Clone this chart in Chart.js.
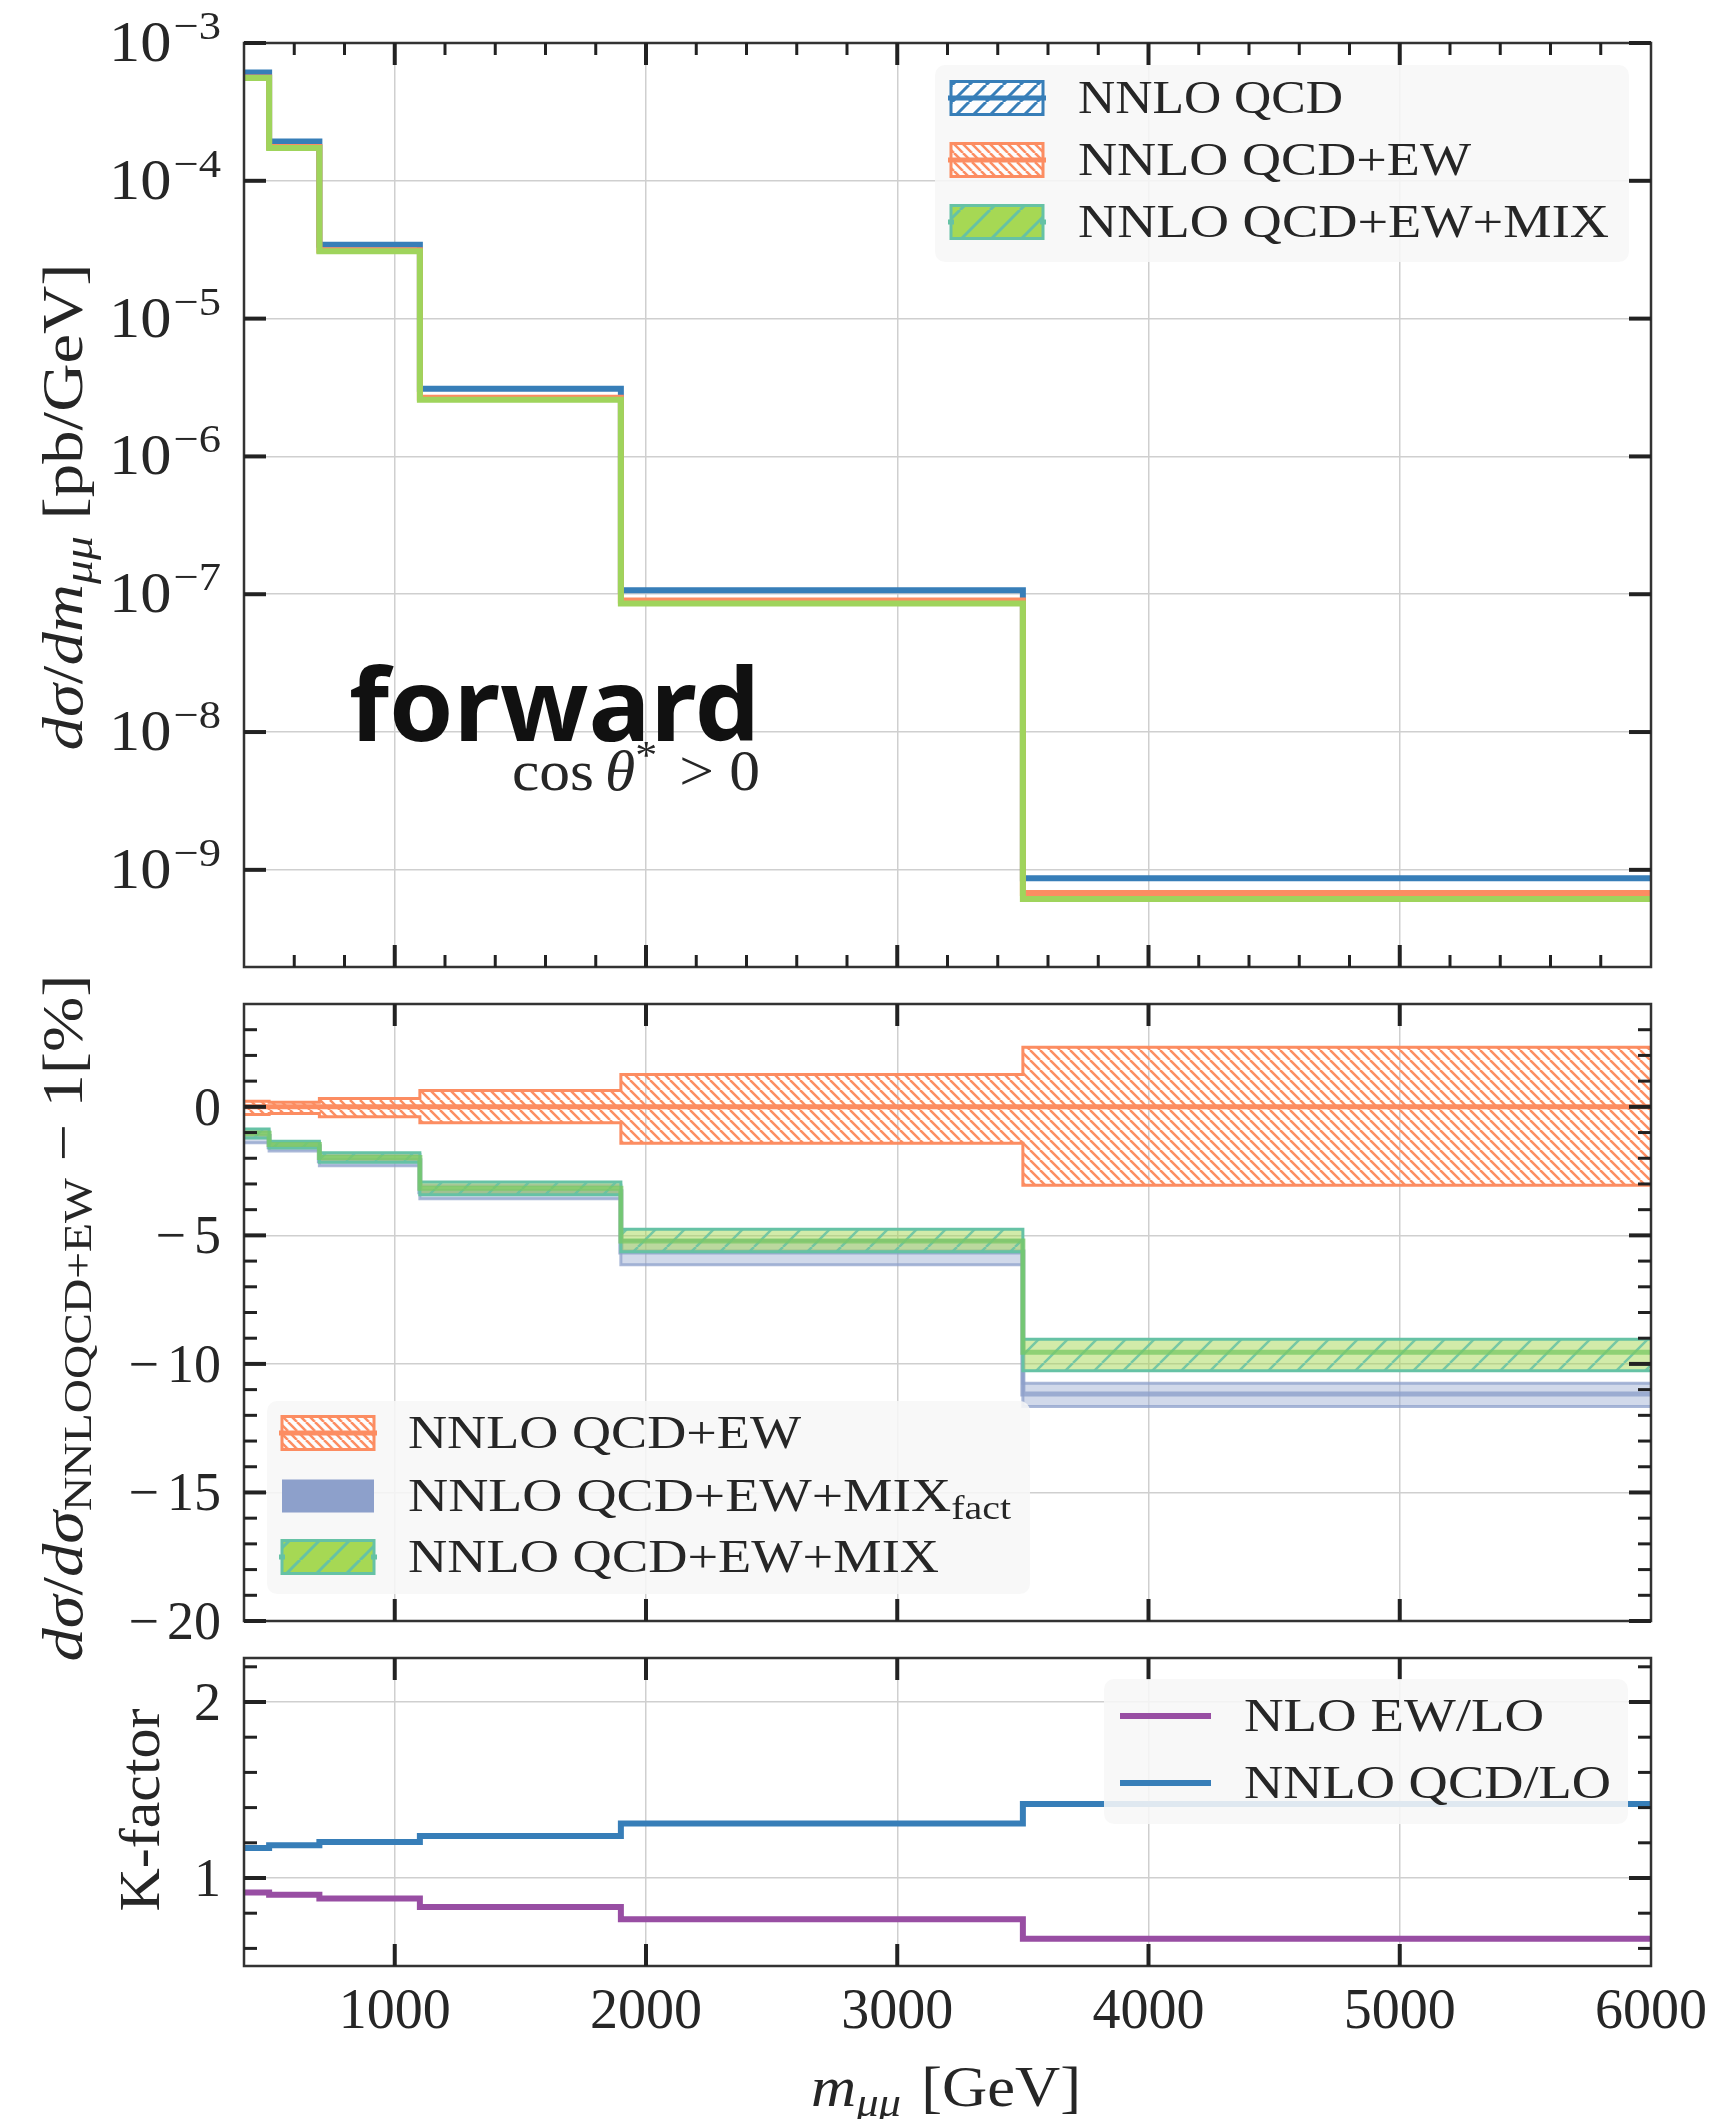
<!DOCTYPE html>
<html lang="en">
<head>
<meta charset="UTF-8">
<title>Forward dσ/dm_μμ</title>
<script src="https://cdn.jsdelivr.net/npm/chart.js"></script>
<style>
  html, body { margin: 0; padding: 0; background: #fff; }
  #wrap { position: relative; width: 1716px; height: 2119px; }
  #wrap canvas { position: absolute; left: 0; top: 0; }
</style>
</head>
<body>
<div id="wrap">
  <canvas id="cMain" width="1716" height="2119"></canvas>
  <canvas id="cRatio" width="1716" height="2119"></canvas>
  <canvas id="cK" width="1716" height="2119"></canvas>
</div>
<script>
// bins in m_mumu [GeV]
const binEdges = [400, 500, 700, 1100, 1900, 3500, 6000];

// top panel: dsigma/dm [pb/GeV]
const xsecNNLOQCD   = [6.1e-4, 1.93e-4, 3.43e-5, 3.10e-6, 1.07e-7, 8.7e-10];
const xsecNNLOQCDEW = [5.63e-4, 1.76e-4, 3.14e-5, 2.67e-6, 9.0e-8, 6.8e-10];
const xsecMIX       = [5.57e-4, 1.73e-4, 3.08e-5, 2.58e-6, 8.55e-8, 6.15e-10];

// middle panel: ratio to NNLO QCD+EW - 1 [%]
const ewCentral   = [0, 0, 0, 0, 0, 0];
const ewUp        = [0.22, 0.18, 0.32, 0.64, 1.26, 2.32];
const ewDown      = [-0.30, -0.26, -0.39, -0.62, -1.42, -3.05];
const factCentral = [-1.15, -1.55, -2.10, -3.30, -5.65, -11.17];
const factUp      = [-0.95, -1.40, -1.85, -3.05, -5.20, -10.75];
const factDown    = [-1.40, -1.72, -2.29, -3.58, -6.14, -11.66];
const mixCentral  = [-1.03, -1.47, -1.97, -3.17, -5.22, -9.55];
const mixUp       = [-0.86, -1.34, -1.79, -2.92, -4.76, -9.04];
const mixDown     = [-1.21, -1.60, -2.16, -3.42, -5.64, -10.27];

// bottom panel: K-factors
const kNLOEW   = [0.917, 0.905, 0.883, 0.835, 0.765, 0.655];
const kNNLOQCD = [1.170, 1.186, 1.205, 1.239, 1.309, 1.420];

// ticks
const xMajorTicks = [1000, 2000, 3000, 4000, 5000];
const xMinorTicks = [600, 800, 1200, 1400, 1600, 1800, 2200, 2400, 2600, 2800, 3200, 3400,
                     3600, 3800, 4200, 4400, 4600, 4800, 5200, 5400, 5600, 5800];
const xTickLabels = [1000, 2000, 3000, 4000, 5000, 6000];
const decadeExps = [-9, -8, -7, -6, -5, -4, -3];
const ratioTicks = [0, -5, -10, -15, -20];
const ratioMinor = [-19, -18, -17, -16, -14, -13, -12, -11, -9, -8, -7, -6, -4, -3, -2, -1, 1, 2, 3];
const kTicks = [1, 2];
const kMinor = [0.6, 0.8, 1.2, 1.4, 1.6, 1.8, 2.2];

const BLUE = '#377eb8', ORANGE = '#fc8d62', GREEN = '#a6d854', TEAL = '#66c2a5',
      FACT = '#8da0cb', PURPLE = '#984ea3', INK = '#262626';
const SERIF = '"Liberation Serif", "DejaVu Serif", serif';
const f = (size, style) => (style ? style + ' ' : '') + size + 'px ' + SERIF;

function hatch(color, s, dir, lw, bg) {
  const c = document.createElement('canvas');
  c.width = s; c.height = s;
  const g = c.getContext('2d');
  if (bg) { g.fillStyle = bg; g.fillRect(0, 0, s, s); }
  g.strokeStyle = color; g.lineWidth = lw;
  for (let k = -1; k <= 1; k++) {
    g.beginPath();
    if (dir === '/') { g.moveTo(k * s, s); g.lineTo(k * s + s, 0); }
    else { g.moveTo(k * s, 0); g.lineTo(k * s + s, s); }
    g.stroke();
  }
  return g.createPattern(c, 'repeat');
}

const orangeHatch = hatch(ORANGE, 10, '\\', 2.5);
const greenHatch = hatch('rgba(102,194,165,0.85)', 29, '/', 2.5, 'rgba(166,216,84,0.5)');
const legBlueHatch = hatch(BLUE, 17, '/', 3, 'rgba(255,255,255,0.7)');
const legOrangeHatch = hatch(ORANGE, 9, '\\', 2.5, 'rgba(255,255,255,0.7)');
const legGreenHatch = hatch(TEAL, 30, '/', 3, GREEN);

// text with mixed fonts, optionally stretched horizontally to a target width
function rich(ctx, parts, x, y, opt = {}) {
  ctx.save();
  let natural = 0;
  parts.forEach(p => {
    ctx.font = p.font;
    p.w = ctx.measureText(p.t).width;
    natural += p.w + (p.gap || 0);
  });
  const sx = opt.width ? opt.width / natural : 1;
  ctx.translate(x, y);
  if (opt.angle) ctx.rotate(opt.angle);
  ctx.scale(sx, 1);
  let cx = opt.align === 'center' ? -natural / 2 : opt.align === 'right' ? -natural : 0;
  ctx.fillStyle = opt.color || INK;
  ctx.textAlign = 'left';
  ctx.textBaseline = 'alphabetic';
  parts.forEach(p => {
    ctx.font = p.font;
    ctx.fillText(p.t, cx, p.dy || 0);
    cx += p.w + (p.gap || 0);
  });
  ctx.restore();
}

function stepData(vals) {
  const pts = vals.map((v, i) => ({ x: binEdges[i], y: v }));
  pts.push({ x: binEdges[binEdges.length - 1], y: vals[vals.length - 1] });
  return pts;
}

function lineDs(label, vals, color, width, order, extra) {
  return Object.assign({
    label, data: stepData(vals), borderColor: color, borderWidth: width,
    stepped: true, pointRadius: 0, fill: false, order,
    borderCapStyle: 'butt', borderJoinStyle: 'miter'
  }, extra || {});
}

function xScale() {
  return {
    type: 'linear', min: 400, max: 6000,
    ticks: { display: false }, border: { display: false },
    grid: { color: '#cfcfcf', lineWidth: 1.5, drawTicks: false },
    afterBuildTicks: s => { s.ticks = xMajorTicks.map(v => ({ value: v })); },
    afterFit: s => { s.height = 0; }
  };
}

function yScale(type, min, max, majors) {
  return {
    type, min, max,
    ticks: { display: false }, border: { display: false },
    grid: { color: '#cfcfcf', lineWidth: 1.5, drawTicks: false },
    afterBuildTicks: s => { s.ticks = majors.map(v => ({ value: v })); },
    afterFit: s => { s.width = 0; }
  };
}

function baseOptions(padding) {
  return {
    responsive: false, animation: false, devicePixelRatio: 1, events: [],
    layout: { padding, autoPadding: false },
    plugins: { legend: { display: false }, tooltip: { enabled: false } }
  };
}

// frame, inward ticks on all sides, tick labels, extras
function deco(name, cfg) {
  return {
    id: 'deco' + name,
    afterDatasetsDraw(chart) {
      const { ctx, chartArea: a, scales: { x, y } } = chart;
      ctx.save();
      ctx.strokeStyle = '#333';
      ctx.lineWidth = 2.5;
      ctx.strokeRect(a.left, a.top, a.right - a.left, a.bottom - a.top);
      ctx.strokeStyle = '#222';
      ctx.lineCap = 'butt';
      const mark = (x1, y1, x2, y2, w) => {
        ctx.lineWidth = w; ctx.beginPath(); ctx.moveTo(x1, y1); ctx.lineTo(x2, y2); ctx.stroke();
      };
      cfg.xMajor.forEach(v => {
        const px = x.getPixelForValue(v);
        mark(px, a.bottom, px, a.bottom - 22, 4);
        mark(px, a.top, px, a.top + 22, 4);
      });
      (cfg.xMinor || []).forEach(v => {
        const px = x.getPixelForValue(v);
        mark(px, a.bottom, px, a.bottom - 12, 3);
        mark(px, a.top, px, a.top + 12, 3);
      });
      cfg.yMajor.forEach(v => {
        const py = y.getPixelForValue(v);
        mark(a.left, py, a.left + 22, py, 4);
        mark(a.right, py, a.right - 22, py, 4);
        cfg.yLabel(ctx, v, py);
      });
      (cfg.yMinor || []).forEach(v => {
        const py = y.getPixelForValue(v);
        mark(a.left, py, a.left + 13, py, 3);
        mark(a.right, py, a.right - 13, py, 3);
      });
      ctx.restore();
      if (cfg.extra) cfg.extra(chart);
    }
  };
}

function legendBox(ctx, x, y, w, h) {
  ctx.save();
  ctx.fillStyle = 'rgba(247,247,247,0.88)';
  ctx.beginPath();
  ctx.roundRect(x, y, w, h, 10);
  ctx.fill();
  ctx.restore();
}

function patch(ctx, kind, x, cy) {
  const w = 92, h = 33, y0 = cy - h / 2;
  ctx.save();
  if (kind === 'fact') {
    ctx.fillStyle = FACT;
    ctx.fillRect(x, y0, w, h);
    ctx.restore();
    return;
  }
  const spec = {
    qcd: { fill: legBlueHatch, edge: BLUE },
    ew: { fill: legOrangeHatch, edge: ORANGE },
    mix: { fill: legGreenHatch, edge: TEAL }
  }[kind];
  ctx.fillStyle = spec.fill;
  ctx.fillRect(x, y0, w, h);
  ctx.strokeStyle = spec.edge;
  ctx.lineWidth = 3;
  ctx.strokeRect(x, y0, w, h);
  ctx.lineWidth = 5;
  ctx.beginPath();
  if (kind === 'mix') {
    ctx.moveTo(x - 3, cy); ctx.lineTo(x + 3, cy);
    ctx.moveTo(x + w - 3, cy); ctx.lineTo(x + w + 3, cy);
  } else {
    ctx.moveTo(x - 3, cy); ctx.lineTo(x + w + 3, cy);
  }
  ctx.stroke();
  ctx.restore();
}

function legendText(ctx, parts, x, cy, width) {
  rich(ctx, parts, x, cy + 15, { width });
}

const numLabel = (ctx, txt, py) => {
  const parts = txt.startsWith('\u2212')
    ? [{ t: '\u2212', font: f(54), gap: 8 }, { t: txt.slice(1), font: f(54) }]
    : [{ t: txt, font: f(54) }];
  rich(ctx, parts, 221, py + 18, { align: 'right' });
};

// ---------- top panel ----------
new Chart(document.getElementById('cMain'), {
  type: 'line',
  data: {
    datasets: [
      lineDs('NNLO QCD+EW+MIX', xsecMIX, '#9fd45c', 6, 1),
      lineDs('NNLO QCD+EW', xsecNNLOQCDEW, ORANGE, 6, 2),
      lineDs('NNLO QCD', xsecNNLOQCD, BLUE, 6, 3)
    ]
  },
  options: Object.assign(baseOptions({ left: 244, right: 65, top: 43, bottom: 2119 - 967 }), {
    scales: {
      x: xScale(),
      y: yScale('logarithmic', Math.pow(10, -9.705), 1e-3, decadeExps.map(e => Math.pow(10, e)))
    }
  }),
  plugins: [deco('Main', {
    xMajor: xMajorTicks, xMinor: xMinorTicks,
    yMajor: decadeExps.map(e => Math.pow(10, e)),
    yLabel: (ctx, v, py) => {
      const e = Math.round(Math.log10(v));
      rich(ctx, [{ t: '10', font: f(56), gap: 2 }, { t: '\u2212' + (-e), font: f(40), dy: -22 }],
        221, py + 18, { align: 'right', width: 112 });
    },
    extra: chart => {
      const ctx = chart.ctx;
      rich(ctx, [
        { t: 'dσ', font: f(56, 'italic') }, { t: '/', font: f(56) },
        { t: 'dm', font: f(56, 'italic') }, { t: 'μμ', font: f(40, 'italic'), dy: 10, gap: 14 },
        { t: '[pb/GeV]', font: f(56) }
      ], 82, 507, { align: 'center', angle: -Math.PI / 2, width: 487 });
      rich(ctx, [{ t: 'forward', font: 'bold 100px "Noto Sans", "DejaVu Sans", sans-serif' }],
        349, 741, { width: 411, color: '#111' });
      rich(ctx, [
        { t: 'cos', font: f(56), gap: 10 }, { t: 'θ', font: f(56, 'italic') },
        { t: '*', font: f(40), dy: -22, gap: 20 }, { t: '> 0', font: f(56) }
      ], 512, 790, { width: 248 });
      legendBox(ctx, 935, 65, 694, 197);
      patch(ctx, 'qcd', 951, 98);
      legendText(ctx, [{ t: 'NNLO QCD', font: f(46) }], 1078, 98, 265);
      patch(ctx, 'ew', 951, 160);
      legendText(ctx, [{ t: 'NNLO QCD+EW', font: f(46) }], 1078, 160, 393);
      patch(ctx, 'mix', 951, 222);
      legendText(ctx, [{ t: 'NNLO QCD+EW+MIX', font: f(46) }], 1078, 222, 531);
    }
  })]
});

// ---------- ratio panel ----------
new Chart(document.getElementById('cRatio'), {
  type: 'line',
  data: {
    datasets: [
      lineDs('EW up', ewUp, ORANGE, 3, 32, { fill: '+1', backgroundColor: orangeHatch }),
      lineDs('EW down', ewDown, ORANGE, 3, 31),
      lineDs('NNLO QCD+EW', ewCentral, ORANGE, 5, 30),
      lineDs('fact up', factUp, 'rgba(141,160,203,0.75)', 3, 22, { fill: '+1', backgroundColor: 'rgba(141,160,203,0.4)' }),
      lineDs('fact down', factDown, 'rgba(141,160,203,0.75)', 3, 21),
      lineDs('NNLO QCD+EW+MIX fact', factCentral, 'rgba(141,160,203,0.8)', 5, 20),
      lineDs('mix up', mixUp, TEAL, 3, 12, { fill: '+1', backgroundColor: greenHatch }),
      lineDs('mix down', mixDown, TEAL, 3, 11),
      lineDs('NNLO QCD+EW+MIX', mixCentral, 'rgba(120,200,100,0.75)', 5, 10)
    ]
  },
  options: Object.assign(baseOptions({ left: 244, right: 65, top: 1004, bottom: 2119 - 1621 }), {
    scales: { x: xScale(), y: yScale('linear', -20, 4, ratioTicks) }
  }),
  plugins: [deco('Ratio', {
    xMajor: xMajorTicks,
    yMajor: ratioTicks, yMinor: ratioMinor,
    yLabel: (ctx, v, py) => numLabel(ctx, v < 0 ? '\u2212' + (-v) : String(v), py),
    extra: chart => {
      const ctx = chart.ctx;
      rich(ctx, [
        { t: 'dσ', font: f(56, 'italic') }, { t: '/', font: f(56) },
        { t: 'dσ', font: f(56, 'italic') }, { t: 'NNLOQCD+EW', font: f(40), dy: 9, gap: 14 },
        { t: '\u2212', font: f(56), gap: 14 }, { t: '1[%]', font: f(56) }
      ], 82, 1318, { align: 'center', angle: -Math.PI / 2, width: 687 });
      legendBox(ctx, 267, 1401, 763, 193);
      patch(ctx, 'ew', 282, 1433);
      legendText(ctx, [{ t: 'NNLO QCD+EW', font: f(46) }], 408, 1433, 393);
      patch(ctx, 'fact', 282, 1496);
      legendText(ctx, [{ t: 'NNLO QCD+EW+MIX', font: f(46) }, { t: 'fact', font: f(33), dy: 8 }], 408, 1496, 603);
      patch(ctx, 'mix', 282, 1557);
      legendText(ctx, [{ t: 'NNLO QCD+EW+MIX', font: f(46) }], 408, 1557, 531);
    }
  })]
});

// ---------- K-factor panel ----------
new Chart(document.getElementById('cK'), {
  type: 'line',
  data: {
    datasets: [
      lineDs('NLO EW/LO', kNLOEW, PURPLE, 6, 2),
      lineDs('NNLO QCD/LO', kNNLOQCD, BLUE, 6, 1)
    ]
  },
  options: Object.assign(baseOptions({ left: 244, right: 65, top: 1658, bottom: 2119 - 1966 }), {
    scales: { x: xScale(), y: yScale('linear', 0.5, 2.25, kTicks) }
  }),
  plugins: [deco('K', {
    xMajor: xMajorTicks,
    yMajor: kTicks, yMinor: kMinor,
    yLabel: (ctx, v, py) => numLabel(ctx, String(v), py),
    extra: chart => {
      const { ctx, scales: { x } } = chart;
      xTickLabels.forEach(v => {
        rich(ctx, [{ t: String(v), font: f(56) }], x.getPixelForValue(v), 2028, { align: 'center' });
      });
      rich(ctx, [{ t: 'K-factor', font: f(56) }], 159, 1810, { align: 'center', angle: -Math.PI / 2, width: 203 });
      rich(ctx, [
        { t: 'm', font: f(56, 'italic') }, { t: 'μμ', font: f(40, 'italic'), dy: 10, gap: 18 },
        { t: '[GeV]', font: f(56) }
      ], 946, 2106, { align: 'center', width: 270 });
      legendBox(ctx, 1104, 1679, 524, 145);
      ctx.save();
      ctx.lineWidth = 6;
      ctx.strokeStyle = PURPLE;
      ctx.beginPath(); ctx.moveTo(1120, 1716); ctx.lineTo(1211, 1716); ctx.stroke();
      ctx.strokeStyle = BLUE;
      ctx.beginPath(); ctx.moveTo(1120, 1783); ctx.lineTo(1211, 1783); ctx.stroke();
      ctx.restore();
      legendText(ctx, [{ t: 'NLO EW/LO', font: f(46) }], 1244, 1716, 300);
      legendText(ctx, [{ t: 'NNLO QCD/LO', font: f(46) }], 1244, 1783, 367);
    }
  })]
});
</script>
</body>
</html>
